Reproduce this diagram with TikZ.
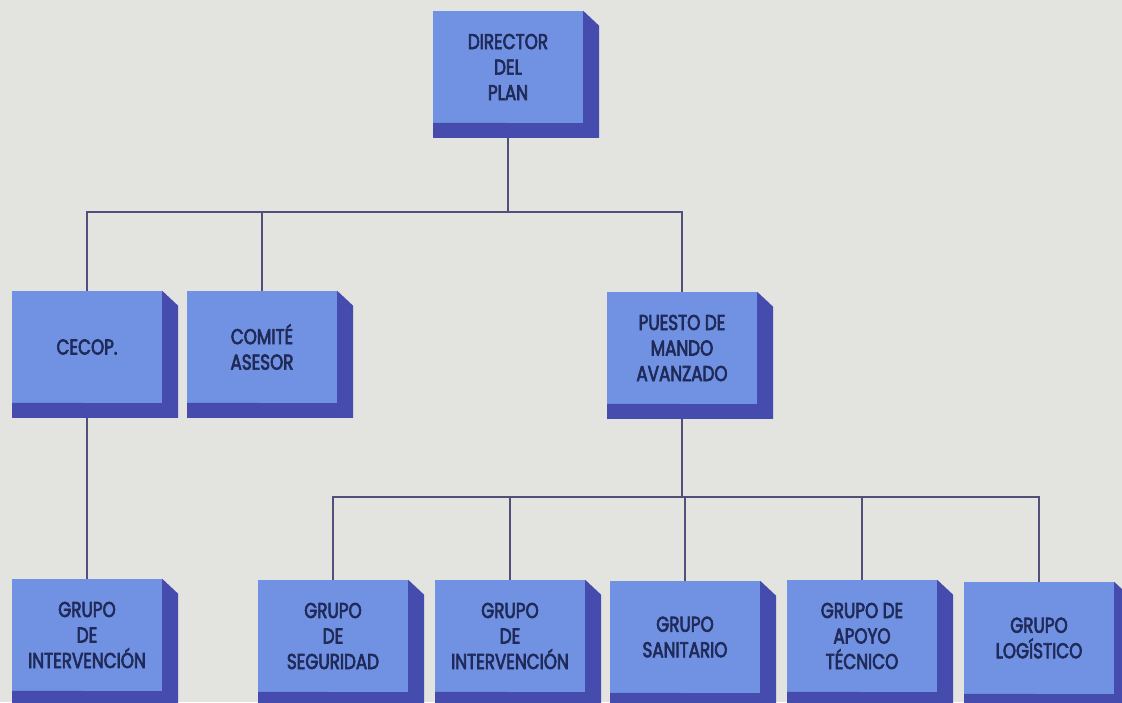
\documentclass[tikz,border=0pt]{standalone}
\usepackage{fontspec}
\newfontfamily\boxfont{Poppins}[FakeStretch=0.78, FakeBold=3]
\usetikzlibrary{backgrounds}
\definecolor{paper}{HTML}{E3E3E0}
\definecolor{face}{HTML}{7191E2}
\definecolor{depth}{HTML}{464BAE}
\definecolor{ink}{HTML}{1F2A58}
\definecolor{wire}{HTML}{50507A}

% front face of a unit, its raised edge drawn right and below
\newcommand\orgunit[4]{%
  \node[unit] (#1) at (#2,#3) {#4};
  \fill[depth] (#1.north east) -- ++(16,15) -- ++(0,112) -- ++(-166,0)
    -- ++(0,-15) -- (#1.south east) -- cycle;}

\begin{document}
\begin{tikzpicture}[x=1pt,y=-1pt,
  unit/.style={rectangle, fill=face, minimum width=150pt, minimum height=112pt,
    inner sep=0pt, align=center, text=ink,
    font=\boxfont\fontsize{21.5}{25.5}\selectfont},
  wirestyle/.style={draw=wire, line width=1.2pt}]
\useasboundingbox (0,0) rectangle (1122,702);

\orgunit{dir}{508}{67}{DIRECTOR\\DEL\\PLAN}
\orgunit{cecop}{87}{347}{CECOP.}
\orgunit{comite}{262}{347}{COMITÉ\\ASESOR}
\orgunit{puesto}{682}{348}{PUESTO DE\\MANDO\\AVANZADO}
\orgunit{gint}{87}{635}{GRUPO\\DE\\INTERVENCIÓN}
\orgunit{gseg}{333}{636}{GRUPO\\DE\\SEGURIDAD}
\orgunit{gint2}{510}{636}{GRUPO\\DE\\INTERVENCIÓN}
\orgunit{gsan}{685}{637}{GRUPO\\SANITARIO}
\orgunit{gapo}{862}{636}{GRUPO DE\\APOYO\\TÉCNICO}
\orgunit{glog}{1039}{638}{GRUPO\\LOGÍSTICO}

\coordinate (busA) at (0,212);
\coordinate (busB) at (0,497);

\begin{scope}[on background layer]
  \fill[paper] (0,0) rectangle (1122,702);
  % upper level
  \draw[wirestyle] (dir.south) -- (dir.south |- busA);
  \draw[wirestyle] (cecop.north) |- (puesto.north |- busA) -- (puesto.north);
  \draw[wirestyle] (comite.north) -- (comite.north |- busA);
  \draw[wirestyle] (cecop.south) -- (gint.north);
  % groups under the forward command post
  \draw[wirestyle] (puesto.south) -- (puesto.south |- busB);
  \draw[wirestyle] (gseg.north) |- (glog.north |- busB) -- (glog.north);
  \draw[wirestyle] (gint2.north) -- (gint2.north |- busB);
  \draw[wirestyle] (gsan.north) -- (gsan.north |- busB);
  \draw[wirestyle] (gapo.north) -- (gapo.north |- busB);
\end{scope}
\end{tikzpicture}
\end{document}
